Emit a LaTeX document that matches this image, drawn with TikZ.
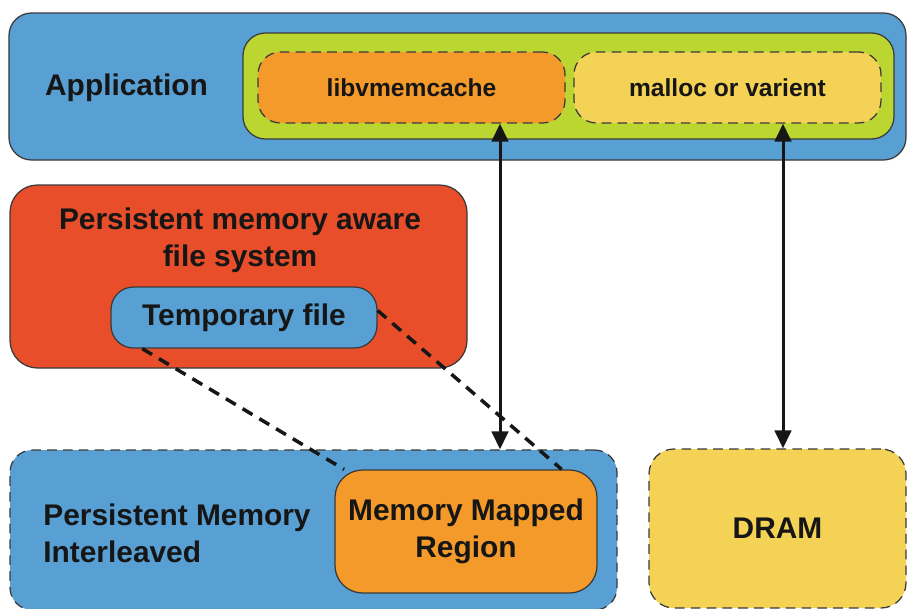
\documentclass[tikz,border=0pt]{standalone}
\usepackage{fontspec}
\setmainfont{Liberation Sans}
\usepackage{tikz}
\usepackage{xcolor}
\usetikzlibrary{positioning}
\usetikzlibrary{arrows}
\usetikzlibrary{arrows.meta}

\begin{document}
\begin{tikzpicture}[draw,
		box/.style={draw={EDGE}, line width={0.25mm}, rounded corners={0.45cm}, inner sep=0pt, text={INK}, font={\bfseries\fontsize{17}{21}\selectfont}, align=center},
		dashbox/.style={box, dash pattern=on 5.5pt off 3.5pt},
		smalltext/.style={font={\bfseries\fontsize{14}{17}\selectfont}},
		boxtext/.style={text={INK}, font={\bfseries\fontsize{17}{21}\selectfont}, inner sep=0pt},
		link/.style={-, draw, line width={0.7mm}, color={INK}, dash pattern=on 2.3mm off 1.6mm},
		flow/.style={{Triangle[length=3.6mm,width=3.3mm]}-{Triangle[length=3.6mm,width=3.3mm]}, draw, line width={0.6mm}, color={INK}}]
			\definecolor{INK}{RGB}{22, 22, 22}
			\definecolor{EDGE}{RGB}{58, 58, 58}
			\definecolor{BLUE}{RGB}{88, 160, 212}
			\definecolor{LIME}{RGB}{188, 214, 49}
			\definecolor{ORANGE}{RGB}{243, 154, 43}
			\definecolor{YELLOW}{RGB}{243, 210, 85}
			\definecolor{RED}{RGB}{232, 78, 42}
			\useasboundingbox (0.0000000, 0.0000000) rectangle (18.1800000, -12.1800000);
			% application layer
			\node[box, fill={BLUE}, minimum width={17.94cm}, minimum height={2.94cm}] (application) at ( 9.1500000, -1.7300000) {};
			\node[boxtext] (applicationtext) at ( 2.5300000, -1.7600000) {Application};
			\node[box, fill={LIME}, minimum width={13.02cm}, minimum height={2.12cm}] (allocators) at (11.3700000, -1.7200000) {};
			\node[dashbox, smalltext, fill={ORANGE}, minimum width={6.14cm}, minimum height={1.42cm}] (libvmemcache) at ( 8.2300000, -1.7500000) {libvmemcache};
			\node[dashbox, smalltext, fill={YELLOW}, minimum width={6.14cm}, minimum height={1.42cm}] (malloc) at (14.5500000, -1.7500000) {malloc or varient};
			% file system
			\node[box, fill={RED}, rounded corners={0.55cm}, minimum width={9.14cm}, minimum height={3.66cm}] (pmfs) at ( 4.7700000, -5.5300000) {};
			\node[boxtext, align=center] (pmfstext) at ( 4.8000000, -4.8000000) {Persistent memory aware\\file system};
			\node[box, fill={BLUE}, minimum width={5.32cm}, minimum height={1.22cm}] (tmpfile) at ( 4.8800000, -6.3500000) {Temporary file};
			% memory
			\node[dashbox, fill={BLUE}, minimum width={12.14cm}, minimum height={3.20cm}] (pmi) at ( 6.2700000, -10.6000000) {};
			\node[boxtext, align=left, anchor=west] (pmitext) at ( 0.8600000, -10.6600000) {Persistent Memory\\Interleaved};
			\node[box, fill={ORANGE}, rounded corners={0.55cm}, minimum width={5.24cm}, minimum height={2.46cm}] (mmr) at ( 9.3200000, -10.6300000) {Memory Mapped\\Region};
			\node[dashbox, fill={YELLOW}, rounded corners={0.5cm}, minimum width={5.14cm}, minimum height={3.18cm}] (dram) at (15.5500000, -10.5700000) {DRAM};
			\coordinate (lane1) at (10.0000000, 0.0000000);
			\coordinate (lane2) at (15.6600000, 0.0000000);
			\draw[link] (tmpfile.197) to (mmr.153.4);
			\draw[link] (tmpfile.3) to (mmr.33.5);
			\draw[flow] (lane1 |- libvmemcache.south) to (lane1 |- pmi.north);
			\draw[flow] (lane2 |- malloc.south) to (lane2 |- dram.north);
		\end{tikzpicture}
\end{document}
